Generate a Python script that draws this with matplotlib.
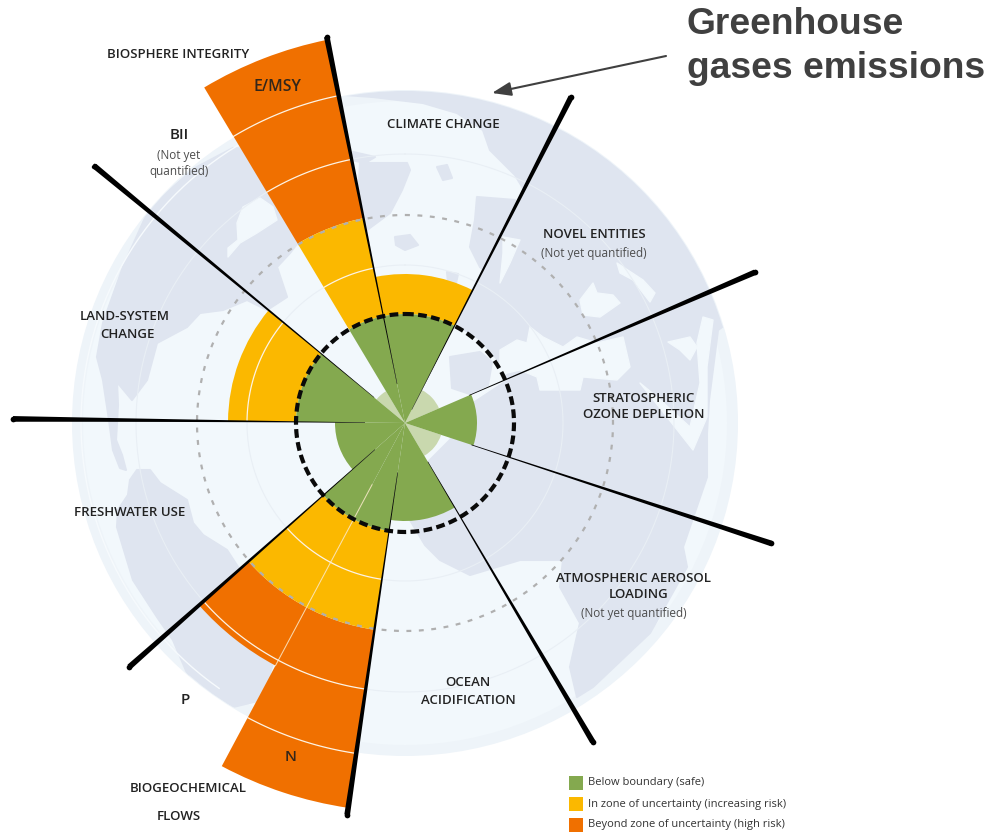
import numpy as np
import matplotlib
matplotlib.use("Agg")
import matplotlib.pyplot as plt
from matplotlib.patches import Circle, Polygon, Rectangle

# ---------- data ----------
sector_names = ["Climate", "Novel", "Ozone", "Aerosol", "Ocean", "N", "P",
                "Freshwater", "Land", "BII", "E/MSY"]
sector_start = [-11.45, 27.0, 66.7, 108.2, 149.5, 188.4, 208.1, 228.5, 270.6, 309.6, 329.1]
sector_end = [27.0, 66.7, 108.2, 149.5, 188.4, 208.1, 228.5, 270.6, 309.6, 329.1, 348.55]
safe_r = [109, 0, 72, 0, 98, 109, 109, 70, 109, 0, 109]
unquantified_r = [0, 37, 0, 38, 0, 0, 0, 0, 0, 37, 0]
uncertain_r = [149, 0, 0, 0, 0, 209, 209, 0, 177, 0, 209]
high_r = [0, 0, 0, 0, 0, 389, 275, 0, 0, 0, 391]
spoke_angle = [-11.45, 27.0, 66.7, 108.2, 149.5, 188.4, 228.5, 270.6, 309.6]
spoke_start = [40, 15, 70, 70, 45, 50, 40, 40, 40]
spoke_end = [394, 366, 381, 385, 370, 396, 368, 392, 403]
ring_r = [158, 269, 334]
boundary_r = 109
uncertainty_r = 208
legend_labels = ["Below boundary (safe)", "In zone of uncertainty (increasing risk)",
                 "Beyond zone of uncertainty (high risk)"]

GREEN, YELLOW, ORANGE, PALE = "#84a94f", "#fbb800", "#f07000", "#c9d8ae"
LAND, SEA, BAND = "#dfe5f0", "#f2f8fc", "#eef4f9"
CX, CY = 405, 423

# approximate map outlines, figure pixels
land_shapes = [
    [(233,148),(195,168),(150,207),(123,267),(103,323),(97,357),(103,380),(108,413),(110,427),
     (113,450),(120,468),(126,470),(122,455),(116,440),(118,405),(117,382),(132,400),(147,380),
     (157,343),(187,327),(200,313),(223,310),(247,300),(267,310),(287,297),(277,267),(290,253),
     (300,240),(280,150)],
    [(137,470),(150,470),(160,483),(187,500),(193,523),(203,535),(227,550),(240,570),(280,640),
     (262,700),(233,707),(190,680),(173,640),(157,617),(133,580),(117,527),(118,510),(128,495),(130,480)],
    [(345,80),(345,95),(373,97),(423,103),(457,113),(483,130),(490,150),(515,175),(524,190),
     (473,289),(456,327),(470,403),(450,440),(428,462),(410,520),(425,545),(440,560),(470,575),
     (520,560),(543,560),(563,560),(560,587),(580,623),(570,667),(577,697),(593,687),(650,633),
     (687,567),(683,547),(707,477),(707,433),(709,400),(718,330),(760,300),(700,120),(560,70)],
    [(360,163),(407,163),(410,170),(402,190),(390,213),(367,230),(357,220)],
    [(353,152),(375,157),(365,163),(352,160)],
    [(395,237),(410,235),(418,245),(405,250),(396,245)],
    [(437,167),(447,165),(452,178),(443,180)],
    [(477,197),(515,200),(500,285),(480,267),(470,247),(475,220)],
    [(447,272),(458,274),(456,283),(448,282)],
]
sea_shapes = [
    [(405,423),(456,327),(478,340),(500,365),(505,380),(470,403)],
    [(500,350),(517,340),(527,343),(530,327),(543,337),(563,347),(577,337),(597,343),(623,337),
     (630,367),(617,380),(583,377),(580,390),(540,390),(537,377),(520,370),(507,373),(500,377)],
    [(580,300),(593,283),(597,293),(613,295),(620,303),(600,317),(583,315)],
    [(617,263),(643,280),(655,293),(650,302),(633,280),(620,273)],
    [(668,342),(690,337),(697,347),(690,360),(680,350)],
    [(703,317),(713,320),(707,367),(707,417),(693,450),(667,417),(640,383),(657,397),(690,427),(700,383),(697,343)],
    [(503,237),(520,240),(510,263),(500,283),(503,253)],
    [(237,223),(243,207),(260,198),(273,207),(277,220),(257,233),(240,243),(228,257),(228,248),(238,240)],
]
iberia = [(450,357),(480,352),(492,362),(488,385),(470,394),(452,388)]

# label text, x, y, size, colour
labels = [
    ("BIOSPHERE INTEGRITY", 178, 55, 9.5, "#222222"),
    ("E/MSY", 277, 87, 11.4, "#33261a"),
    ("BII", 179, 135, 11, "#222222"),
    ("(Not yet", 179, 155, 8.5, "#4d4d4d"),
    ("quantified)", 179, 172, 8.5, "#4d4d4d"),
    ("CLIMATE CHANGE", 443, 125, 9.5, "#222222"),
    ("NOVEL ENTITIES", 594, 235, 9.5, "#222222"),
    ("(Not yet quantified)", 594, 254, 8.5, "#4d4d4d"),
    ("STRATOSPHERIC", 644, 398, 9.5, "#222222"),
    ("OZONE DEPLETION", 644, 415, 9.5, "#222222"),
    ("LAND-SYSTEM", 125, 317, 9.5, "#222222"),
    ("CHANGE", 127, 335, 9.5, "#222222"),
    ("FRESHWATER USE", 130, 513, 9.5, "#222222"),
    ("ATMOSPHERIC AEROSOL", 634, 578, 9.5, "#222222"),
    ("LOADING", 639, 595, 9.5, "#222222"),
    ("(Not yet quantified)", 634, 613, 8.5, "#4d4d4d"),
    ("OCEAN", 468, 683, 9.5, "#222222"),
    ("ACIDIFICATION", 468, 700, 9.5, "#222222"),
    ("P", 185, 700, 11, "#222222"),
    ("N", 291, 757, 11, "#33261a"),
    ("BIOGEOCHEMICAL", 188, 788, 9.5, "#222222"),
    ("FLOWS", 179, 816, 9.5, "#222222"),
]

# ---------- figure ----------
fig = plt.figure(figsize=(9.91, 8.36), dpi=100, facecolor="white")
plt.rcParams["font.family"] = ["Open Sans", "DejaVu Sans"]

bg = fig.add_axes([0, 0, 1, 1], zorder=0)
bg.set_xlim(0, 991); bg.set_ylim(836, 0); bg.axis("off")
bg.add_patch(Circle((CX, CY), 333, fc=BAND, ec="none", zorder=1))
bg.add_patch(Circle((CX, CY), 322, fc=SEA, ec="none", zorder=1.1))
clip = Circle((CX, CY), 332, transform=bg.transData)
for s in land_shapes:
    p = Polygon(s, closed=True, fc=LAND, ec=LAND, lw=1.5, joinstyle="round", zorder=2)
    bg.add_patch(p); p.set_clip_path(clip)
for s in sea_shapes:
    bg.add_patch(Polygon(s, closed=True, fc=SEA, ec=SEA, lw=1.0, joinstyle="round", zorder=3))
bg.add_patch(Polygon(iberia, closed=True, fc=LAND, ec=LAND, lw=1.5, joinstyle="round", zorder=4))

ax = fig.add_axes([0, 8 / 836, 810 / 991, 810 / 836], projection="polar", zorder=1)
ax.set_theta_zero_location("N")
ax.set_theta_direction(-1)
ax.set_ylim(0, 405)
ax.axis("off")

start = np.radians(sector_start)
end = np.radians(sector_end)
mid = (start + end) / 2
wid = end - start

# faint guide rings on the globe
th = np.radians(np.arange(0, 361))
for r in ring_r[:2]:
    ax.plot(th, np.full_like(th, r), color="#e9eff5", lw=0.8, zorder=1)
th_left = np.radians(np.arange(215, 345))
ax.plot(th_left, np.full_like(th_left, 324.0), color="#f6fafd", lw=1.0, zorder=1)

safe = np.array(safe_r, float)
unq = np.array(unquantified_r, float)
unc = np.array(uncertain_r, float)
high = np.array(high_r, float)
ax.bar(mid, unq, width=wid, color=PALE, lw=0, zorder=2)
ax.bar(mid, np.where(high > 0, high - unc, 0), width=wid, bottom=unc, color=ORANGE, lw=0, zorder=2)
ax.bar(mid, np.where(unc > 0, unc - safe, 0), width=wid, bottom=safe, color=YELLOW, lw=0, zorder=2)
ax.bar(mid, safe, width=wid, color=GREEN, lw=0, zorder=2.1)

# white rings inside the coloured wedges
for a, b, top in zip(start, end, np.maximum(high, unc)):
    if top > 0:
        for r in ring_r:
            if r < top:
                tt = np.linspace(a, b, 40)
                ax.plot(tt, np.full_like(tt, r), color="#fdf3e4", lw=0.9, zorder=3)

# pale divider between N and P
pdiv = np.radians(sector_start[sector_names.index("P")])
ax.plot([pdiv, pdiv], [70, 275], color="#fbe9c8", lw=0.8, alpha=0.75, zorder=3)

# boundaries
tt = np.linspace(0, 2 * np.pi, 721)
ax.plot(tt, np.full_like(tt, uncertainty_r), color="#b0b0b0", lw=1.6,
        dashes=(2.2, 3.4), zorder=4)
ax.plot(tt, np.full_like(tt, boundary_r), color="#0a0a0a", lw=3.0,
        dashes=(2.1, 1.05), zorder=5)

# tapered spokes drawn as thin filled outlines (radius unit = one pixel)
for ang, r0, r1 in zip(spoke_angle, spoke_start, spoke_end):
    t = np.radians(ang)
    rr = np.linspace(r0, r1, 40)
    half = (0.3 + 5.4 * (rr / r1) ** 1.5) / 2
    d = np.arcsin(half / rr)
    ax.fill(np.r_[t - d, (t + d)[::-1]], np.r_[rr, rr[::-1]], color="black", lw=0, zorder=6)
    ax.plot([t], [r1], "o", ms=5.7 * 0.72, mfc="black", mec="none", zorder=6)

# overlay: text, arrow, legend
top = fig.add_axes([0, 0, 1, 1], zorder=2)
top.set_xlim(0, 991); top.set_ylim(836, 0); top.axis("off"); top.patch.set_alpha(0)
for txt, x, y, size, col in labels:
    top.text(x, y, txt, ha="center", va="center", fontsize=size, color=col,
             fontweight="semibold" if not txt.startswith("(") and txt != "quantified)" else "normal",
             family=["Open Sans", "DejaVu Sans"])

top.text(687, 24, "Greenhouse", ha="left", va="center", fontsize=26.8, fontweight="bold",
         color="#404040", family="Liberation Sans")
top.text(687, 68, "gases emissions", ha="left", va="center", fontsize=26.8, fontweight="bold",
         color="#404040", family="Liberation Sans")
top.annotate("", xy=(492, 93), xytext=(666, 56),
             arrowprops=dict(arrowstyle="-|>,head_length=1.15,head_width=0.42", color="#404040",
                             lw=1.5, shrinkA=0, shrinkB=0))

for lab, col, y in zip(legend_labels, [GREEN, YELLOW, ORANGE], [776, 797, 818]):
    top.add_patch(Rectangle((569, y), 14, 14, fc=col, ec="none"))
    top.text(588, y + 7, lab, ha="left", va="center", fontsize=8.0, color="#333333",
             family=["Open Sans", "DejaVu Sans"])

fig.savefig("out.png", dpi=100)
